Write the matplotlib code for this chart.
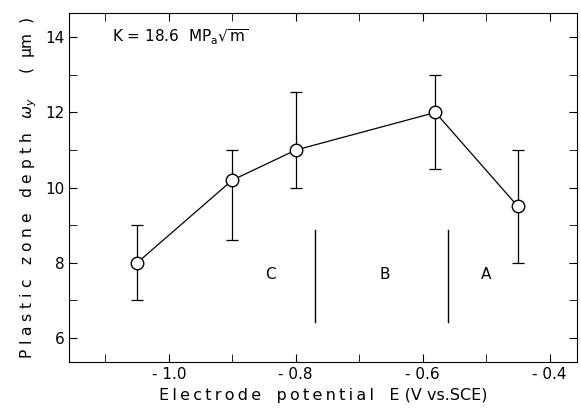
import matplotlib
matplotlib.use("Agg")
import matplotlib.pyplot as plt

# data
potential = [-1.05, -0.9, -0.8, -0.58, -0.45]
depth = [8.0, 10.2, 11.0, 12.0, 9.5]
err_low = [1.0, 1.6, 1.0, 1.5, 1.5]
err_high = [1.0, 0.8, 1.55, 1.0, 1.5]

# region boundaries and labels
bounds = [-0.77, -0.56]
region_x = [-0.84, -0.66, -0.50]
region_names = ["C", "B", "A"]

plt.rcParams['font.family'] = ['DejaVu Sans']
plt.rcParams['mathtext.fontset'] = 'dejavusans'


def spaced(s, sep="\u2009"):
    # spread letters out like the typewriter-style labels
    return sep.join(s)


fig = plt.figure(figsize=(5.81, 4.12), dpi=100)
ax = fig.add_axes([0.119, 0.121, 0.874, 0.847])

ax.errorbar(potential, depth, yerr=[err_low, err_high], fmt='o-', color='black',
            mfc='white', mec='black', ms=9, lw=0.9, elinewidth=0.9, capsize=4,
            capthick=0.9, zorder=3)

for b in bounds:
    ax.plot([b, b], [6.43, 8.87], color='black', lw=1.0)
for rx, name in zip(region_x, region_names):
    ax.text(rx, 7.68, name, ha='center', va='center', fontsize=11)

ax.text(-1.09, 14.0, r"K = 18.6  MP$_\mathrm{a}\sqrt{\mathrm{m}}$", fontsize=11,
        va='center')

ax.set_xlim(-1.157, -0.357)
ax.set_ylim(5.36, 14.64)
ax.set_xticks([-1.0, -0.8, -0.6, -0.4])
ax.set_xticklabels(["- 1.0", "- 0.8", "- 0.6", "- 0.4"])
ax.set_xticks([-1.1, -0.9, -0.7, -0.5], minor=True)
ax.set_yticks([6, 8, 10, 12, 14])
ax.set_yticks([7, 9, 11, 13], minor=True)
ax.tick_params(which='both', direction='in', top=True, right=True, labelsize=11)
ax.tick_params(which='major', length=6)
ax.tick_params(which='minor', length=6)

ax.set_xlabel(spaced("Electrode") + "   " + spaced("potential") + "   E (V vs.SCE)",
              fontsize=11.5)
ax.set_ylabel(r"P l a s t i c   z o n e   d e p t h   $\omega_y$     (  μm  )",
              fontsize=11.2)

fig.savefig("out.png", dpi=100)
